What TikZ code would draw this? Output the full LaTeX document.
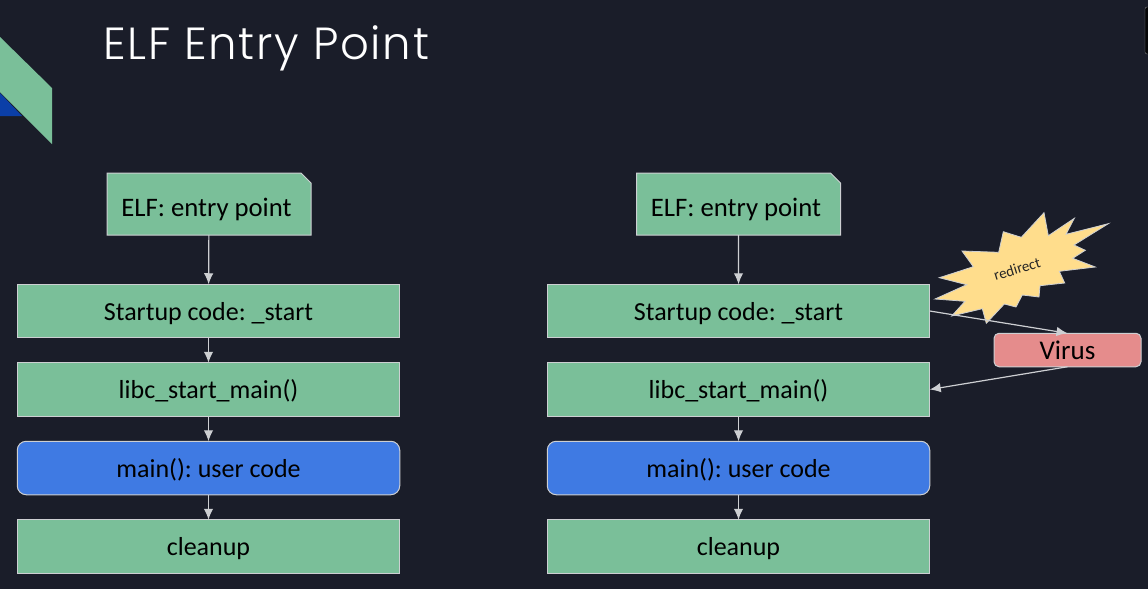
\documentclass[tikz,border=0pt]{standalone}
\usepackage{xcolor}
\usepackage{fontspec}
\setmainfont{Carlito}
\newfontfamily\titlefont[LetterSpace=3.8]{Poppins Light}
\usetikzlibrary{positioning,arrows.meta,shapes.misc}
\definecolor{slidebg}{HTML}{1A1D29}
\definecolor{boxgreen}{HTML}{7ABF99}
\definecolor{boxblue}{HTML}{3F7AE3}
\definecolor{boxred}{HTML}{E58C8C}
\definecolor{burstfill}{HTML}{FFDD8C}
\definecolor{logoblue}{HTML}{0B3FA8}
\definecolor{edgegray}{HTML}{CDCFD2}
\frenchspacing

\begin{document}
\begin{tikzpicture}[
  x=1pt, y=-1pt,
  box/.style={draw=edgegray, fill=boxgreen, align=center, minimum width=382.5pt, minimum height=53.5pt, font=\fontsize{26}{30}\selectfont, text=black, inner sep=0pt, outer sep=0pt, line width=1pt, text height=20pt, text depth=2pt},
  userbox/.style={box, fill=boxblue, rounded corners=9pt},
  notebox/.style={box, chamfered rectangle, chamfered rectangle corners=north east, chamfered rectangle sep=5pt, minimum width=204pt, minimum height=62pt, font=\fontsize{26.7}{30}\selectfont, text height=38pt, text depth=14pt},
  virusbox/.style={box, fill=boxred, rounded corners=5pt, minimum width=147pt, minimum height=33.5pt, font=\fontsize{27}{30}\selectfont},
  arr/.style={-{Latex[length=11pt,width=9.5pt]}, edgegray, line width=1.2pt}
]
\useasboundingbox (0,0) rectangle (1148,589);
\clip (0,0) rectangle (1148,589);
\fill[slidebg] (0,0) rectangle (1148,589);
\fill[logoblue] (0,93) -- (22,116) -- (0,116) -- cycle;
\fill[boxgreen] (0,37) -- (52,88) -- (52,144) -- (0,92) -- cycle;
\draw[gray, fill=black!80!slidebg, rounded corners=2pt] (1145,7) rectangle (1160,54);
\node[anchor=base west, inner sep=0pt, text=white, font=\titlefont\fontsize{45}{50}\selectfont] (title) at (103,59) {ELF Entry Point};

% left column
\node[notebox] (entryl) at (209,204) {\hspace*{9pt}ELF: entry point\hspace*{14pt}};
\node[box] (startl) at (208.5,311) {Startup code: \_start};
\node[box, below=25pt of startl] (libcl) {libc\_start\_main()};
\node[userbox, below=25pt of libcl] (mainl) {main(): user code};
\node[box, below=25pt of mainl] (cleanl) {cleanup};

% right column
\node[notebox] (entryr) at (738.5,204) {\hspace*{9pt}ELF: entry point\hspace*{14pt}};
\node[box] (startr) at (738.5,311) {Startup code: \_start};
\node[box, below=25pt of startr] (libcr) {libc\_start\_main()};
\node[userbox, below=25pt of libcr] (mainr) {main(): user code};
\node[box, below=25pt of mainr] (cleanr) {cleanup};

\node[virusbox] (virus) at (1067.5,350) {Virus};

\draw[draw=edgegray, fill=burstfill, line width=.8pt] (1044,212.7) -- (1048.3,235.7) -- (1074.3,218.3) -- (1066,234.3) -- (1108.3,223.7) -- (1074,245) -- (1085.3,250.3) -- (1072.7,258.3) -- (1095.3,267) -- (1059.3,271.3) -- (1064.7,283) -- (1040,285.7) -- (1039,297) -- (1022.3,295) -- (1016,307) -- (1004.3,304) -- (986.3,323.3) -- (982.3,308.7) -- (951.7,316) -- (965,301.3) -- (935,299) -- (966.7,284.7) -- (939.3,277.7) -- (973.3,266.7) -- (962,251) -- (998.7,252.3) -- (1003.3,231.7) -- (1021.3,237.3) -- cycle;
\node[rotate=17, text=black!85, inner sep=0pt, font=\fontsize{15}{18}\selectfont] (redirect) at (1017,269) {redirect};

\draw[arr] (entryl) -- (startl);
\draw[arr] (startl) -- (libcl);
\draw[arr] (libcl) -- (mainl);
\draw[arr] (mainl) -- (cleanl);
\draw[arr] (entryr) -- (startr);
\draw[arr] (libcr) -- (mainr);
\draw[arr] (mainr) -- (cleanr);
\draw[arr] (startr.east) -- (virus.north);
\draw[arr] (virus.south) -- (libcr.east);
\end{tikzpicture}
\end{document}
